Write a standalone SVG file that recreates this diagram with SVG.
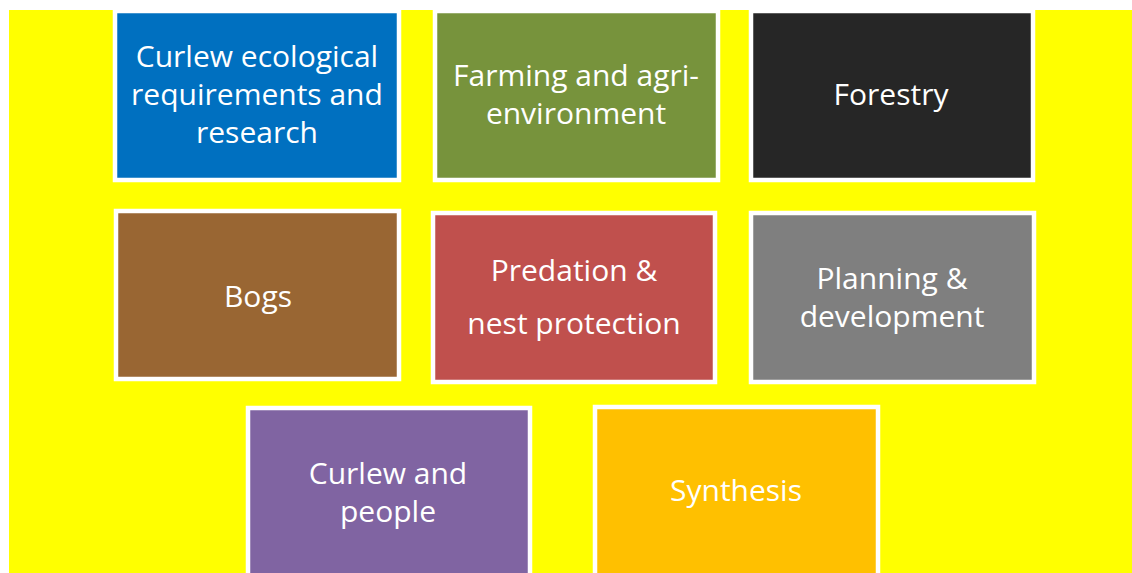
<svg xmlns="http://www.w3.org/2000/svg" width="1132" height="573" viewBox="0 0 1132 573">
<style>
.box{stroke:#ffffff;stroke-width:4.5}
.t{font-family:"Open Sans","DejaVu Sans",sans-serif;font-size:30px;fill:#ffffff;text-anchor:middle}
</style>
<rect x="0" y="0" width="1132" height="573" fill="#ffffff"/>
<rect x="9" y="10" width="1123" height="563" fill="#ffff00"/>
<g id="node-ecology">
<rect class="box" x="115" y="11" width="284" height="169" fill="#0070c0"/>
<text class="t" x="257" y="67">Curlew ecological</text>
<text class="t" x="257" y="105">requirements and</text>
<text class="t" x="257" y="143">research</text>
</g>
<g id="node-farming">
<rect class="box" x="435" y="11" width="283" height="169" fill="#77933c"/>
<text class="t" x="576" y="86">Farming and agri-</text>
<text class="t" x="576" y="124">environment</text>
</g>
<g id="node-forestry">
<rect class="box" x="751" y="11" width="282" height="169" fill="#262626"/>
<text class="t" x="891" y="105">Forestry</text>
</g>
<g id="node-bogs">
<rect class="box" x="116" y="211" width="283" height="168" fill="#996633"/>
<text class="t" x="258" y="307">Bogs</text>
</g>
<g id="node-predation">
<rect class="box" x="433" y="213" width="282" height="169" fill="#c0504d"/>
<text class="t" x="574" y="281">Predation &amp;</text>
<text class="t" x="574" y="334">nest protection</text>
</g>
<g id="node-planning">
<rect class="box" x="751" y="213" width="283" height="169" fill="#7f7f7f"/>
<text class="t" x="892" y="289">Planning &amp;</text>
<text class="t" x="892" y="327">development</text>
</g>
<g id="node-people">
<rect class="box" x="248" y="408" width="282" height="175" fill="#8064a2"/>
<text class="t" x="388" y="484">Curlew and</text>
<text class="t" x="388" y="522">people</text>
</g>
<g id="node-synthesis">
<rect class="box" x="595" y="407" width="283" height="176" fill="#ffc000"/>
<text class="t" x="736" y="501">Synthesis</text>
</g>
<g id="connectors"></g>
</svg>
